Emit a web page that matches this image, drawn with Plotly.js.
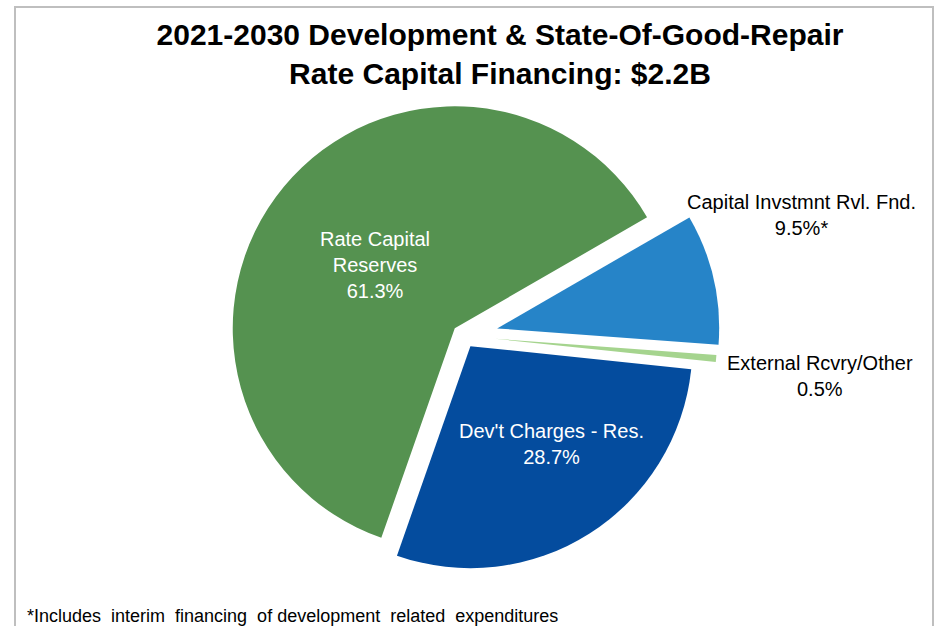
<!DOCTYPE html>
<html>
<head>
<meta charset="utf-8">
<script src="https://cdn.plot.ly/plotly-3.0.1.min.js"></script>
<style>
  html, body { margin: 0; padding: 0; background: #ffffff; }
  #chart { width: 939px; height: 626px; }
</style>
</head>
<body>
<div id="chart"></div>
<script>
// ---- data ----
const labels = ["Capital Invstmnt Rvl. Fnd.", "External Rcvry/Other", "Dev't Charges - Res.", "Rate Capital Reserves"];
const displayLabels = ["Capital Invstmnt Rvl. Fnd.", "External Rcvry/Other", "Dev't Charges - Res.", "Rate Capital<br>Reserves"];
const values = [9.5, 0.5, 28.7, 61.3];
const noteMarks = ["*", "", "", ""];
const titleLines = ["2021-2030 Development & State-Of-Good-Repair", "Rate Capital Financing: $2.2B"];
const footnote = "*Includes  interim  financing  of development  related  expenditures";

// ---- styling ----
const colors = ["#2684C8", "#A5D48E", "#044C9E", "#559250"];
const pulls = [0.153, 0.14, 0.054, 0.054];
const textColors = ["#000000", "#000000", "#ffffff", "#ffffff"];
// label anchor positions in pixels (x center, y of middle of text block)
const labelPos = [[801, 215], [820, 376], [551, 444], [375, 265]];

const W = 939, H = 626;
const total = values.reduce((a, b) => a + b, 0);

const annotations = labels.map((l, i) => ({
  xref: "paper", yref: "paper",
  x: labelPos[i][0] / W, y: 1 - labelPos[i][1] / H,
  xanchor: "center", yanchor: "middle",
  text: displayLabels[i] + "<br>" + (values[i] / total * 100).toFixed(1) + "%" + noteMarks[i],
  showarrow: false,
  font: { family: "Liberation Sans, Arial, sans-serif", size: 20, color: textColors[i] },
  align: "center"
}));

annotations.push({
  xref: "paper", yref: "paper",
  x: 25 / W, y: 1 - 616 / H,
  xanchor: "left", yanchor: "middle",
  text: footnote.replace(/ /g, "&nbsp;"),
  showarrow: false,
  font: { family: "Liberation Sans, Arial, sans-serif", size: 18, color: "#000000" }
});

// pie geometry
const cx = 464, cy = 336, boxH = 512, boxW = 600;

const trace = {
  type: "pie",
  labels: labels,
  values: values,
  sort: false,
  direction: "clockwise",
  rotation: 60,
  pull: pulls,
  marker: { colors: colors, line: { width: 0 } },
  textinfo: "none",
  hoverinfo: "label+percent",
  showlegend: false,
  domain: {
    x: [(cx - boxW / 2) / W, (cx + boxW / 2) / W],
    y: [1 - (cy + boxH / 2) / H, 1 - (cy - boxH / 2) / H]
  }
};

const layout = {
  width: W, height: H,
  margin: { l: 0, r: 0, t: 0, b: 0 },
  paper_bgcolor: "#ffffff",
  plot_bgcolor: "#ffffff",
  title: {
    text: "<b>" + titleLines.join("<br>") + "</b>",
    x: 500 / W, xanchor: "center", xref: "paper",
    y: 1 - 45 / H, yanchor: "top", yref: "container",
    font: { family: "Liberation Sans, Arial, sans-serif", size: 30, color: "#000000" }
  },
  shapes: [{
    type: "rect", xref: "paper", yref: "paper",
    x0: 15 / W, x1: 933 / W, y0: -0.1, y1: 1 - 7 / H,
    line: { color: "#BFBFBF", width: 2 }
  }],
  annotations: annotations
};

Plotly.newPlot("chart", [trace], layout, { displayModeBar: false, staticPlot: true });
</script>
</body>
</html>
